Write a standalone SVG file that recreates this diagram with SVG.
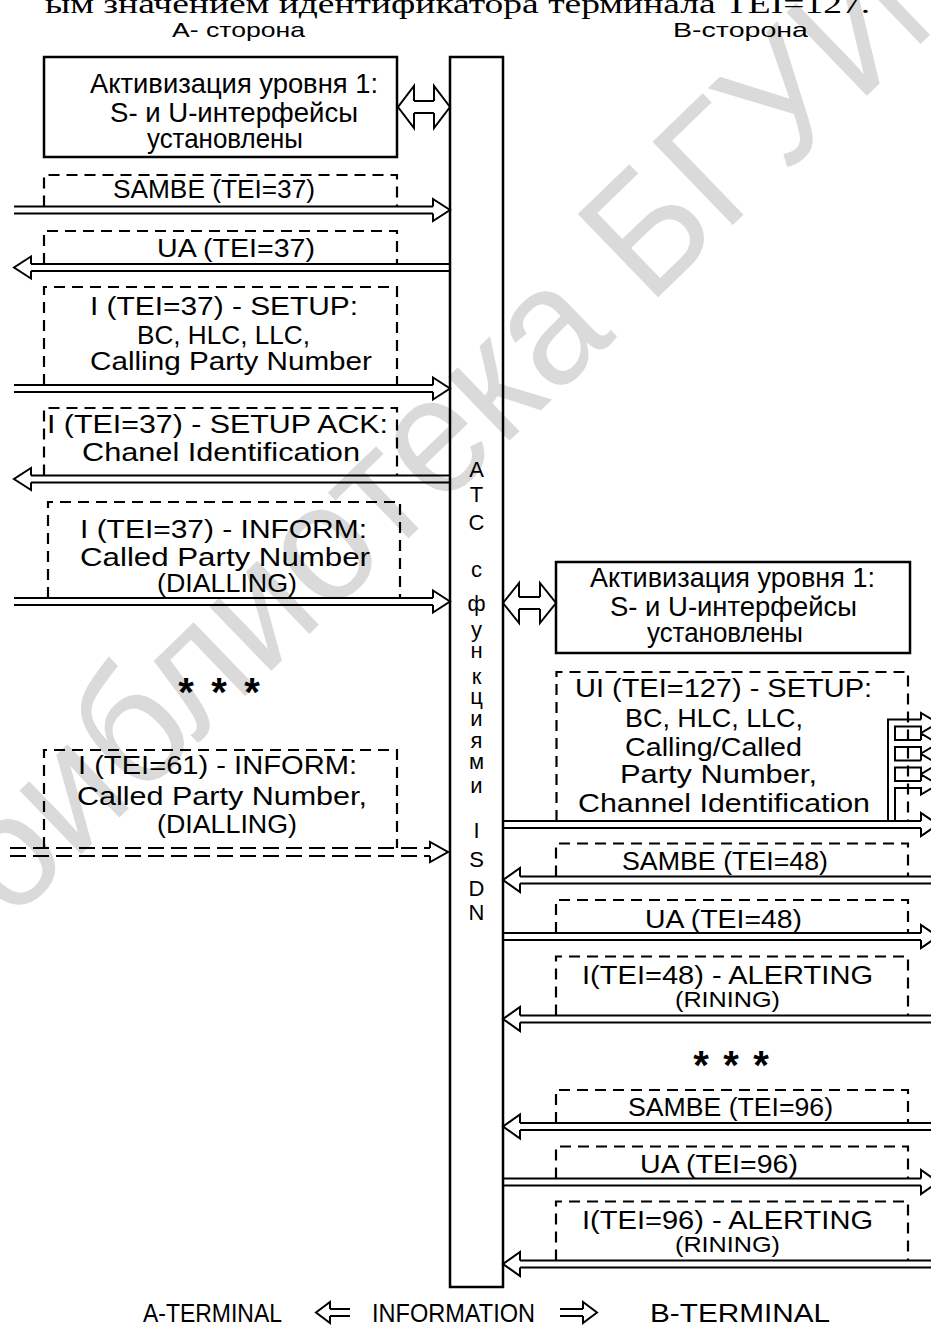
<svg xmlns="http://www.w3.org/2000/svg" width="931" height="1329" viewBox="0 0 931 1329">
<style>
.t{font-family:"Liberation Sans","DejaVu Sans",sans-serif;fill:#000}
.m{font-size:25px}
.m2{font-size:22px}
.b{font-size:28px}
.h{font-size:21px}
.v{font-size:22px;text-anchor:middle}
.st{font-size:40px;font-weight:bold;text-anchor:middle}
.box{fill:none;stroke:#000;stroke-width:2.5}
.dash{fill:none;stroke:#000;stroke-width:2.2;stroke-dasharray:11 7}
.arr{fill:none;stroke:#000;stroke-width:2}
.darr{fill:none;stroke:#000;stroke-width:2;stroke-dasharray:16 7}
.wm{font-family:"Liberation Sans","DejaVu Sans",sans-serif;fill:#dadada}
</style>
<rect width="931" height="1329" fill="#fff"/>
<g id="watermark">
<text class="wm" font-size="168" transform="translate(8,925) rotate(-44)" textLength="1400" lengthAdjust="spacingAndGlyphs">библиотека БГУИР</text>
</g>
<g id="caption">
<text x="45" y="13" font-family="Liberation Serif, serif" font-size="28" textLength="825" lengthAdjust="spacingAndGlyphs">ым значением идентификатора терминала TEI=127.</text>
</g>
<g id="headers">
<text class="t h" x="172" y="37" textLength="133" lengthAdjust="spacingAndGlyphs">А- сторона</text>
<text class="t h" x="673" y="37" textLength="135" lengthAdjust="spacingAndGlyphs">В-сторона</text>
</g>
<g id="exchange">
<rect x="450" y="57" width="53" height="1230" class="box"/>
<text class="t v" x="476.5" y="477">А</text>
<text class="t v" x="476.5" y="502">Т</text>
<text class="t v" x="476.5" y="530">С</text>
<text class="t v" x="476.5" y="577">с</text>
<text class="t v" x="476.5" y="611">ф</text>
<text class="t v" x="476.5" y="637">у</text>
<text class="t v" x="476.5" y="658">н</text>
<text class="t v" x="476.5" y="684">к</text>
<text class="t v" x="476.5" y="704">ц</text>
<text class="t v" x="476.5" y="726">и</text>
<text class="t v" x="476.5" y="748">я</text>
<text class="t v" x="476.5" y="769">м</text>
<text class="t v" x="476.5" y="793">и</text>
<text class="t v" x="476.5" y="838">I</text>
<text class="t v" x="476.5" y="867">S</text>
<text class="t v" x="476.5" y="896">D</text>
<text class="t v" x="476.5" y="920">N</text>
</g>
<g id="boxA">
<rect x="44" y="57" width="353" height="100" class="box"/>
<text class="t b" x="90" y="93" textLength="288" lengthAdjust="spacingAndGlyphs">Активизация уровня 1:</text>
<text class="t b" x="110" y="122" textLength="248" lengthAdjust="spacingAndGlyphs">S- и U-интерфейсы</text>
<text class="t b" x="147" y="148" textLength="156" lengthAdjust="spacingAndGlyphs">установлены</text>
</g>
<g id="boxB">
<rect x="556" y="562" width="354" height="91" class="box"/>
<text class="t b" x="590" y="587" textLength="285" lengthAdjust="spacingAndGlyphs">Активизация уровня 1:</text>
<text class="t b" x="610" y="616" textLength="247" lengthAdjust="spacingAndGlyphs">S- и U-интерфейсы</text>
<text class="t b" x="647" y="642" textLength="156" lengthAdjust="spacingAndGlyphs">установлены</text>
</g>
<g id="msgA1">
<path class="dash" d="M44,206.5V175H397V206.5"/>
<text class="t m" x="113" y="198" textLength="202" lengthAdjust="spacingAndGlyphs">SAMBE (TEI=37)</text>
</g>
<g id="msgA2">
<path class="dash" d="M44,264V231H397V264"/>
<text class="t m" x="157" y="257" textLength="158" lengthAdjust="spacingAndGlyphs">UA (TEI=37)</text>
</g>
<g id="msgA3">
<path class="dash" d="M44,385V287H397V385"/>
<text class="t m" x="90" y="315" textLength="268" lengthAdjust="spacingAndGlyphs">I (TEI=37) - SETUP:</text>
<text class="t m" x="137" y="344" textLength="173" lengthAdjust="spacingAndGlyphs">BC, HLC, LLC,</text>
<text class="t m" x="90" y="370" textLength="282" lengthAdjust="spacingAndGlyphs">Calling Party Number</text>
</g>
<g id="msgA4">
<path class="dash" d="M44,475.5V408H397V475.5"/>
<text class="t m" x="47" y="433" textLength="341" lengthAdjust="spacingAndGlyphs">I (TEI=37) - SETUP ACK:</text>
<text class="t m" x="82" y="461" textLength="278" lengthAdjust="spacingAndGlyphs">Chanel Identification</text>
</g>
<g id="msgA5">
<path class="dash" d="M48,598V502H400V598"/>
<text class="t m" x="80" y="538" textLength="287" lengthAdjust="spacingAndGlyphs">I (TEI=37) - INFORM:</text>
<text class="t m" x="80" y="566" textLength="290" lengthAdjust="spacingAndGlyphs">Called Party Number</text>
<text class="t m" x="157" y="592" textLength="140" lengthAdjust="spacingAndGlyphs">(DIALLING)</text>
</g>
<g id="dotsA">
<text class="t st" x="186" y="706">*</text>
<text class="t st" x="219" y="706">*</text>
<text class="t st" x="252" y="706">*</text>
</g>
<g id="msgA6">
<path class="dash" d="M44,848V750H397V848"/>
<text class="t m" x="78" y="774" textLength="279" lengthAdjust="spacingAndGlyphs">I (TEI=61) - INFORM:</text>
<text class="t m" x="77" y="805" textLength="290" lengthAdjust="spacingAndGlyphs">Called Party Number,</text>
<text class="t m" x="157" y="833" textLength="140" lengthAdjust="spacingAndGlyphs">(DIALLING)</text>
</g>
<g id="msgB1">
<path class="dash" d="M556.5,821V672H908V821"/>
<text class="t m" x="575" y="697" textLength="297" lengthAdjust="spacingAndGlyphs">UI (TEI=127) - SETUP:</text>
<text class="t m" x="625" y="727" textLength="178" lengthAdjust="spacingAndGlyphs">BC, HLC, LLC,</text>
<text class="t m" x="625" y="756" textLength="177" lengthAdjust="spacingAndGlyphs">Calling/Called</text>
<text class="t m" x="620" y="783" textLength="197" lengthAdjust="spacingAndGlyphs">Party Number,</text>
<text class="t m" x="578" y="812" textLength="292" lengthAdjust="spacingAndGlyphs">Channel Identification</text>
</g>
<g id="msgB2">
<path class="dash" d="M556,876.5V843.5H908V876.5"/>
<text class="t m" x="622" y="870" textLength="206" lengthAdjust="spacingAndGlyphs">SAMBE (TEI=48)</text>
</g>
<g id="msgB3">
<path class="dash" d="M556,933V900H908V933"/>
<text class="t m" x="645" y="928" textLength="157" lengthAdjust="spacingAndGlyphs">UA (TEI=48)</text>
</g>
<g id="msgB4">
<path class="dash" d="M556,1015.5V956.5H908V1015.5"/>
<text class="t m" x="582" y="984" textLength="291" lengthAdjust="spacingAndGlyphs">I(TEI=48) - ALERTING</text>
<text class="t m2" x="675" y="1007" textLength="105" lengthAdjust="spacingAndGlyphs">(RINING)</text>
</g>
<g id="dotsB">
<text class="t st" x="701" y="1079">*</text>
<text class="t st" x="731" y="1079">*</text>
<text class="t st" x="761" y="1079">*</text>
</g>
<g id="msgB5">
<path class="dash" d="M556,1123V1090H908V1123"/>
<text class="t m" x="628" y="1116" textLength="205" lengthAdjust="spacingAndGlyphs">SAMBE (TEI=96)</text>
</g>
<g id="msgB6">
<path class="dash" d="M556,1178.5V1146.5H908V1178.5"/>
<text class="t m" x="640" y="1173" textLength="158" lengthAdjust="spacingAndGlyphs">UA (TEI=96)</text>
</g>
<g id="msgB7">
<path class="dash" d="M556,1260.5V1201.5H908V1260.5"/>
<text class="t m" x="582" y="1229" textLength="291" lengthAdjust="spacingAndGlyphs">I(TEI=96) - ALERTING</text>
<text class="t m2" x="675" y="1252" textLength="105" lengthAdjust="spacingAndGlyphs">(RINING)</text>
</g>
<g id="connectors">
<path class="arr" d="M414,101H434M414,113H434M414,101V86L398,107L414,128V113M434,101V86L450,107L434,128V113"/>
<path class="arr" d="M519,597H540M519,609H540M519,597V583L503,603L519,623V609M540,597V583L556,603L540,623V609"/>
<path class="arr" d="M14,206.5H433M14,213.5H433M433,206.5V199L450,210L433,221V213.5"/>
<path class="arr" d="M450,264H31M450,271H31M31,264V256.5L14,267.5L31,278.5V271"/>
<path class="arr" d="M14,385H433M14,392H433M433,385V377.5L450,388.5L433,399.5V392"/>
<path class="arr" d="M450,475.5H31M450,482.5H31M31,475.5V468L14,479L31,490V482.5"/>
<path class="arr" d="M14,598H433M14,605H433M433,598V590.5L450,601.5L433,612.5V605"/>
<path class="darr" d="M10,848H430M10,856H430"/>
<path class="arr" d="M430,848V842L448,852L430,862V856"/>
<path class="arr" d="M503,821H921M503,828H921M921,821V813L938,824.5L921,836V828"/>
<path class="arr" d="M888,821V719.5H921M921,719.5V713L938,723L921,733V726.5H895V740H921M921,740V733.5L938,743.5L921,753.5V747H895V760.5H921M921,760.5V754L938,764L921,774V767.5H895V781H921M921,781V774.5L938,784.5L921,794.5V788H895V821"/>
<path class="arr" d="M931,876.5H520M931,883.5H520M520,876.5V868L503,880L520,892V883.5"/>
<path class="arr" d="M503,933H921M503,940H921M921,933V925L938,936.5L921,948V940"/>
<path class="arr" d="M931,1015.5H520M931,1022.5H520M520,1015.5V1007L503,1019L520,1031V1022.5"/>
<path class="arr" d="M931,1123H520M931,1130H520M520,1123V1114.5L503,1126.5L520,1138.5V1130"/>
<path class="arr" d="M503,1178.5H921M503,1185.5H921M921,1178.5V1170L938,1182L921,1194V1185.5"/>
<path class="arr" d="M931,1260.5H520M931,1267.5H520M520,1260.5V1252L503,1264L520,1276V1267.5"/>
<path class="arr" d="M350,1309H330M350,1316H330M330,1309V1302L316,1312.5L330,1323V1316"/>
<path class="arr" d="M560,1309H583M560,1316H583M583,1309V1302L597,1312.5L583,1323V1316"/>
</g>
<g id="legend">
<text class="t m" x="143" y="1322" textLength="139" lengthAdjust="spacingAndGlyphs">A-TERMINAL</text>
<text class="t m" x="372" y="1322" textLength="163" lengthAdjust="spacingAndGlyphs">INFORMATION</text>
<text class="t m" x="650" y="1322" textLength="180" lengthAdjust="spacingAndGlyphs">B-TERMINAL</text>
</g>
</svg>
